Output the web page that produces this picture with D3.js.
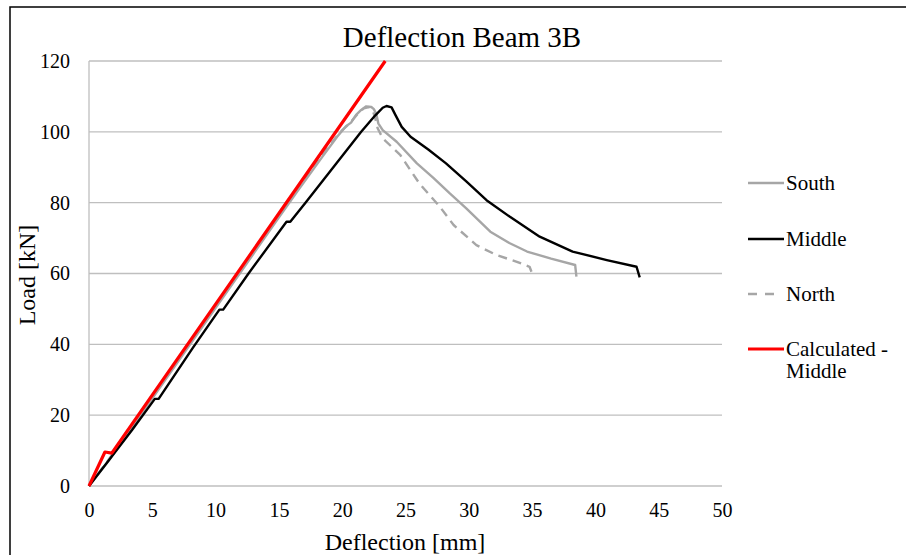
<!DOCTYPE html>
<html>
<head>
<meta charset="utf-8">
<script src="https://cdn.jsdelivr.net/npm/d3@7"></script>
<style>
  html, body { margin: 0; padding: 0; background: #fff; }
  svg { display: block; }
</style>
</head>
<body>
<svg id="chart" width="906" height="555"></svg>
<script>
// Load–deflection readings for beam 3B: [deflection mm, load kN]
const south = [
  [0, 0], [1.5, 6.9], [4, 19.6], [8, 40.1], [12, 60.5], [14.7, 74.3], [16.5, 83.4],
  [18.4, 92.8], [19.6, 98.6], [20.3, 101.6], [20.7, 102.6], [21.1, 104.8], [21.5, 106.2],
  [21.9, 107.2], [22.3, 107.0], [22.5, 106.4], [22.7, 105.0], [22.85, 102.4], [23.2, 100.5],
  [24.3, 97.2], [25.9, 91.1], [27.2, 87.0], [28.5, 82.6], [29.8, 78.4], [31.7, 71.8],
  [33.2, 68.6], [34.6, 66.2], [36.5, 64.2], [38.4, 62.4], [38.5, 59.1]
];
const middle = [
  [0, 0], [1.6, 7.4], [3.4, 15.8], [5.2, 24.6], [5.5, 24.6], [8.2, 39.0], [10.3, 49.8],
  [10.6, 49.8], [12.6, 60.0], [15.6, 74.6], [15.9, 74.6], [17.1, 80.0], [19.3, 90.0],
  [21.5, 100.0], [22.6, 104.6], [23.2, 106.8], [23.5, 107.3], [23.9, 106.9], [24.2, 104.8],
  [24.7, 101.4], [25.4, 98.6], [26.8, 95.0], [28.2, 91.1], [29.8, 86.0], [31.4, 80.7],
  [33.25, 76.0], [35.6, 70.4], [38.2, 66.2], [40.9, 63.8], [43.25, 61.9], [43.5, 58.9]
];
const north = [
  [0, 0], [1.5, 7.2], [4, 20.0], [8, 40.6], [12, 61.0], [15, 76.3], [18, 91.5],
  [19.8, 99.8], [20.6, 102.4], [21.2, 105.0], [21.7, 106.6], [22.1, 107.0], [22.4, 106.2],
  [22.6, 104.0], [22.8, 101.0], [23.2, 98.2], [24.6, 93.4], [26.1, 85.4], [27.7, 78.9],
  [28.8, 73.7], [30.6, 68.0], [32.2, 65.2], [33.8, 63.3], [34.8, 61.9], [34.95, 60.5]
];
const calculated = [
  [0, 0], [1.26, 9.6], [1.8, 9.3], [23.4, 120]
];

const xTicks = [0, 5, 10, 15, 20, 25, 30, 35, 40, 45, 50];
const yTicks = [0, 20, 40, 60, 80, 100, 120];

const seriesNames = ["South", "Middle", "North", "Calculated - Middle"];

const FONT = '"Liberation Serif", "Times New Roman", Times, serif';

const svg = d3.select("#chart");

// outer frame of the chart area
svg.append("rect")
  .attr("x", 10).attr("y", 7)
  .attr("width", 1000).attr("height", 1000)
  .attr("fill", "none").attr("stroke", "#000").attr("stroke-width", 1.5);

const x = d3.scaleLinear().domain([0, 50]).range([89, 722]);
const y = d3.scaleLinear().domain([0, 120]).range([486, 61]);

// horizontal gridlines
svg.append("g")
  .selectAll("line")
  .data(yTicks)
  .join("line")
  .attr("x1", x(0)).attr("x2", x(50))
  .attr("y1", d => y(d)).attr("y2", d => y(d))
  .attr("stroke", "#bfbfbf").attr("stroke-width", 1.3);

// vertical axis line
svg.append("line")
  .attr("x1", x(0)).attr("x2", x(0))
  .attr("y1", y(0)).attr("y2", y(120))
  .attr("stroke", "#bfbfbf").attr("stroke-width", 1.3);

// y tick labels
const yAxis = d3.axisLeft(y).tickValues(yTicks).tickSize(0).tickPadding(19);
const gy = svg.append("g").attr("transform", `translate(${x(0)},0)`).call(yAxis);
gy.select(".domain").remove();
gy.selectAll("text")
  .style("font-family", FONT)
  .style("font-size", "20px").attr("fill", "#000");

// x tick labels
const xAxis = d3.axisBottom(x).tickValues(xTicks).tickSize(0).tickPadding(17);
const gx = svg.append("g").attr("transform", `translate(0,${y(0)})`).call(xAxis);
gx.select(".domain").remove();
gx.selectAll("text")
  .style("font-family", FONT)
  .style("font-size", "20px").attr("fill", "#000");

// title and axis titles
svg.append("text")
  .attr("x", 462).attr("y", 47)
  .attr("text-anchor", "middle")
  .style("font-family", FONT)
  .style("font-size", "29px")
  .text("Deflection Beam 3B");

svg.append("text")
  .attr("x", 405).attr("y", 550)
  .attr("text-anchor", "middle")
  .style("font-family", FONT)
  .style("font-size", "24px")
  .text("Deflection [mm]");

svg.append("text")
  .attr("transform", "translate(35,275) rotate(-90)")
  .attr("text-anchor", "middle")
  .style("font-family", FONT)
  .style("font-size", "24px")
  .text("Load [kN]");

const line = d3.line().x(d => x(d[0])).y(d => y(d[1]));

const styles = [
  { data: south, color: "#a6a6a6", width: 2.4, dash: null },
  { data: north, color: "#a6a6a6", width: 2.4, dash: "9,6" },
  { data: middle, color: "#000000", width: 2.4, dash: null },
  { data: calculated, color: "#ff0000", width: 3.2, dash: null }
];

const plot = svg.append("g");
styles.forEach(s => {
  plot.append("path")
    .datum(s.data)
    .attr("d", line)
    .attr("fill", "none")
    .attr("stroke", s.color)
    .attr("stroke-width", s.width)
    .attr("stroke-linejoin", "round")
    .attr("stroke-dasharray", s.dash);
});

// legend
const legendItems = [
  { name: seriesNames[0], color: "#a6a6a6", width: 2.4, dash: null, x2: 784, y: 183 },
  { name: seriesNames[1], color: "#000000", width: 2.4, dash: null, x2: 784, y: 239 },
  { name: seriesNames[2], color: "#a6a6a6", width: 2.4, dash: "9,8", x2: 775, y: 294 },
  { name: seriesNames[3], color: "#ff0000", width: 3.2, dash: null, x2: 784, y: 349 }
];
const lg = svg.append("g");
legendItems.forEach(it => {
  lg.append("line")
    .attr("x1", 748).attr("x2", it.x2)
    .attr("y1", it.y).attr("y2", it.y)
    .attr("stroke", it.color).attr("stroke-width", it.width)
    .attr("stroke-dasharray", it.dash);
  const t = lg.append("text")
    .attr("x", 786).attr("y", it.y + 7)
    .style("font-family", FONT)
    .style("font-size", "21px");
  if (it.name === "Calculated - Middle") {
    t.append("tspan").attr("x", 786).text("Calculated -");
    t.append("tspan").attr("x", 786).attr("dy", 22).text("Middle");
  } else {
    t.text(it.name);
  }
});
</script>
</body>
</html>
